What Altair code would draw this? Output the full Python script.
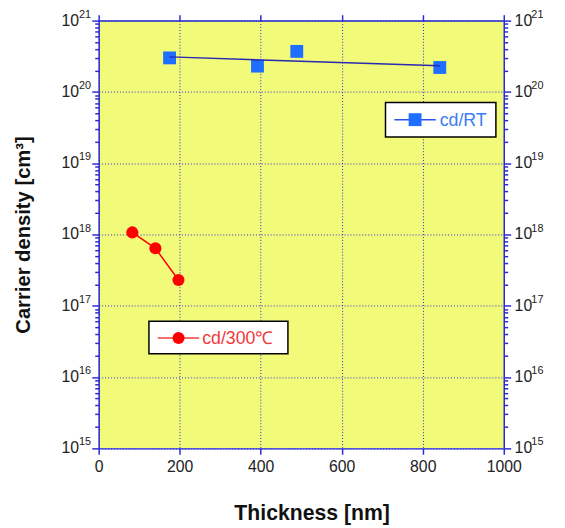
import altair as alt
import pandas as pd

# ---- data ----
rt_thickness = [175, 392, 489, 842]
rt_density = [3.0e20, 2.3e20, 3.7e20, 2.2e20]
fit_thickness = [175, 842]
fit_density = [3.1e20, 2.32e20]
ht_thickness = [83, 140, 197]
ht_density = [1.07e18, 6.4e17, 2.3e17]
exponents = [15, 16, 17, 18, 19, 20, 21]
x_ticks = [0, 200, 400, 600, 800, 1000]
rt_label = "cd/RT"
ht_label = "cd/300℃"

y_ticks = [m * 10.0 ** e for e in exponents[:-1] for m in range(1, 10)] + [10.0 ** exponents[-1]]

W, H = 411, 434
AXIS_BLUE = "#2a2ad8"
SQ_BLUE = "#1e6eff"
FIT_BLUE = "#2828b0"
RED = "#ff0000"
FONT = "Liberation Sans"

rt = pd.DataFrame({"t": rt_thickness, "n": rt_density})
fit = pd.DataFrame({"t": fit_thickness, "n": fit_density})
ht = pd.DataFrame({"t": ht_thickness, "n": ht_density})
lab = pd.DataFrame({"v": [10.0 ** e for e in exponents], "e": [str(e) for e in exponents], "ten": ["10"] * len(exponents)})
one = pd.DataFrame({"a": [0]})

xs = alt.Scale(domain=[0, 1000], nice=False, zero=False)
ys = alt.Scale(type="log", domain=[1e15, 1e21], nice=False)

major = "abs(log(datum.value)/LN10 - round(log(datum.value)/LN10)) < 0.000001"
tick_size = {"condition": {"test": major, "value": 7}, "value": 4}

left_axis = alt.Axis(
    orient="left", values=y_ticks, labels=False, tickSize=tick_size,
    grid=True, gridOpacity={"condition": {"test": major, "value": 1}, "value": 0},
    gridDash=[1, 2], gridColor=AXIS_BLUE, gridWidth=1,
    title="Carrier density [cm³]", titleFont=FONT, titleFontSize=20.5, titleFontWeight="bold",
    titleColor="#111", titlePadding=58,
)
bottom_axis = alt.Axis(
    orient="bottom", values=x_ticks, format="d", tickSize=6, grid=True, gridDash=[1, 2],
    gridColor=AXIS_BLUE, gridWidth=1, labelFont=FONT, labelFontSize=16, labelColor="#222",
    labelPadding=4, labelFlush=False,
    title="Thickness [nm]", titleFont=FONT, titleFontSize=21.5, titleFontWeight="bold",
    titleColor="#111", titlePadding=29, titleX=216, titleAlign="center",
)
right_axis = alt.Axis(orient="right", values=y_ticks, labels=False, tickSize=tick_size, grid=False, title=None)
top_axis = alt.Axis(orient="top", values=x_ticks, labels=False, tickSize=6, grid=False, title=None)

rt_points = alt.Chart(rt).mark_point(shape="square", filled=True, size=170, color=SQ_BLUE, opacity=1).encode(
    x=alt.X("t:Q", scale=xs, axis=bottom_axis),
    y=alt.Y("n:Q", scale=ys, axis=left_axis),
)
fit_line = alt.Chart(fit).mark_line(color=FIT_BLUE, strokeWidth=1.5).encode(
    x=alt.X("t:Q", scale=xs, axis=top_axis),
    y=alt.Y("n:Q", scale=ys, axis=right_axis),
)
ht_line = alt.Chart(ht).mark_line(color=RED, strokeWidth=1.5).encode(
    x=alt.X("t:Q", scale=xs, axis=None), y=alt.Y("n:Q", scale=ys, axis=None)
)
ht_points = alt.Chart(ht).mark_point(shape="circle", filled=True, size=150, color=RED, opacity=1).encode(
    x=alt.X("t:Q", scale=xs, axis=None), y=alt.Y("n:Q", scale=ys, axis=None)
)

def ylab(text_field, xpix, align, size, dy):
    return alt.Chart(lab).mark_text(font=FONT, fontSize=size, align=align, baseline="middle", dy=dy, color="#222").encode(
        x=alt.value(xpix), y=alt.Y("v:Q", scale=ys, axis=None), text=f"{text_field}:N"
    )

labels = [
    ylab("ten", -20, "right", 16, 0),
    ylab("e", -20, "left", 11, -6),
    ylab("ten", W + 11, "left", 16, 0),
    ylab("e", W + 28, "left", 11, -6),
]

def legend(x0, x1, y0, y1, lx0, lx1, ly, px, tx, shape, size, mcolor, lcolor, tcolor, text):
    box = alt.Chart(one).mark_rect(fill="white", stroke="black", strokeWidth=1.5).encode(
        x=alt.value(x0), x2=alt.value(x1), y=alt.value(y0), y2=alt.value(y1)
    )
    ln = alt.Chart(one).mark_rule(color=lcolor, strokeWidth=1.5).encode(
        x=alt.value(lx0), x2=alt.value(lx1), y=alt.value(ly)
    )
    pt = alt.Chart(one).mark_point(shape=shape, filled=True, size=size, color=mcolor, opacity=1).encode(
        x=alt.value(px), y=alt.value(ly)
    )
    tx_ = alt.Chart(one).mark_text(font=FONT, fontSize=18, align="left", baseline="middle", color=tcolor).encode(
        x=alt.value(tx), y=alt.value(ly + 1), text=alt.value(text)
    )
    return [box, ln, pt, tx_]

leg_rt = legend(291, 403, 83, 118, 300, 342, 100.5, 321, 346, "square", 170, SQ_BLUE, "#2f4ff0", "#3a7ef2", rt_label)
leg_ht = legend(51, 192, 305, 338, 60, 102, 322, 81, 105, "circle", 150, RED, "#f04040", "#f03a3a", ht_label)

chart = alt.layer(
    rt_points, fit_line, ht_line, ht_points, *labels, *leg_rt, *leg_ht
).resolve_axis(x="independent", y="independent").properties(
    width=W, height=H,
    autosize=alt.AutoSizeParams(type="none"),
    padding={"left": 92, "top": 9, "right": 54, "bottom": 77},
).configure_view(fill="#f2fa7a", stroke=None).configure_axis(
    domainColor=AXIS_BLUE, domainWidth=1.5, tickColor=AXIS_BLUE, tickWidth=1.5
)

chart.save("out.html", embed_options={"renderer": "svg", "actions": False})
